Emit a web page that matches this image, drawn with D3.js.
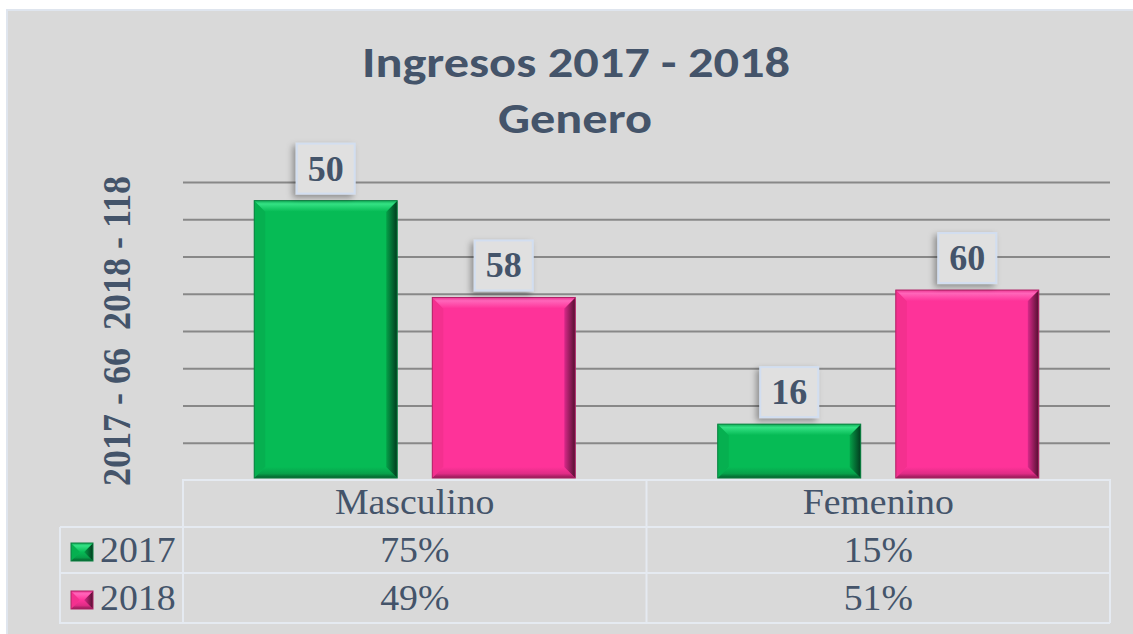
<!DOCTYPE html>
<html>
<head>
<meta charset="utf-8">
<script src="https://cdn.jsdelivr.net/npm/d3@7"></script>
<style>
  html, body { margin: 0; padding: 0; background: #ffffff; }
  svg { display: block; }
</style>
</head>
<body>
<svg id="chart" width="1133" height="634"></svg>
<script>
(function () {
  "use strict";

  // values: bar heights are the shares, labels are the counts
  const categories = ["Masculino", "Femenino"];
  const years = ["2017", "2018"];
  const share2017 = [0.75, 0.15];
  const share2018 = [0.49, 0.51];
  const count2017 = [50, 16];
  const count2018 = [58, 60];
  const titleLines = ["Ingresos 2017 - 2018", "Genero"];
  const axisTitle = "2017 - 66  2018 - 118";

  const W = 1133;
  const H = 634;
  const PLOT_LEFT = 183;
  const PLOT_RIGHT = 1110;
  const PLOT_TOP = 182;
  const PLOT_BOTTOM = 480;
  const ROW_H = 48;
  const LEGEND_LEFT = 60;
  const TEXT = "#44546a";
  const SERIF = "'Liberation Serif', 'Times New Roman', serif";

  const palettes = {
    "2017": { main: "#06bb55", top: "#34e284", topEdge: "#12ad58", left: "#06b050", rightA: "#05a048", rightB: "#023a1e", bottom: "#07a04a", bottomEdge: "#055c2c", edge: "#0a8040" },
    "2018": { main: "#fe3399", top: "#ff66ba", topEdge: "#ec3592", left: "#f4308f", rightA: "#d9298a", rightB: "#52102f", bottom: "#e02c86", bottomEdge: "#8e1a53", edge: "#b02266" }
  };

  const shares = { "2017": share2017, "2018": share2018 };
  const counts = { "2017": count2017, "2018": count2018 };

  const svg = d3.select("#chart");
  const defs = svg.append("defs");

  const shadow = defs.append("filter").attr("id", "labelShadow")
    .attr("x", "-30%").attr("y", "-30%").attr("width", "160%").attr("height", "160%");
  shadow.append("feDropShadow").attr("dx", -3).attr("dy", 3)
    .attr("stdDeviation", 3).attr("flood-color", "#000").attr("flood-opacity", 0.35);

  years.forEach((yr) => {
    const p = palettes[yr];
    const gr = defs.append("linearGradient").attr("id", "right" + yr)
      .attr("x1", 0).attr("x2", 1).attr("y1", 0).attr("y2", 0);
    gr.append("stop").attr("offset", 0).attr("stop-color", p.rightA);
    gr.append("stop").attr("offset", 1).attr("stop-color", p.rightB);
    const gt = defs.append("linearGradient").attr("id", "top" + yr)
      .attr("x1", 0).attr("x2", 0).attr("y1", 0).attr("y2", 1);
    gt.append("stop").attr("offset", 0).attr("stop-color", p.topEdge);
    gt.append("stop").attr("offset", 0.3).attr("stop-color", p.top);
    gt.append("stop").attr("offset", 1).attr("stop-color", p.main);
    const gb = defs.append("linearGradient").attr("id", "bottom" + yr)
      .attr("x1", 0).attr("x2", 0).attr("y1", 0).attr("y2", 1);
    gb.append("stop").attr("offset", 0).attr("stop-color", p.main);
    gb.append("stop").attr("offset", 0.6).attr("stop-color", p.bottom);
    gb.append("stop").attr("offset", 1).attr("stop-color", p.bottomEdge);
  });

  // background panel
  svg.append("rect").attr("x", 7).attr("y", 10).attr("width", W - 6).attr("height", H)
    .attr("fill", "#d9d9d9").attr("stroke", "#dfe5ee").attr("stroke-width", 2);

  // title
  const title = svg.append("text").attr("text-anchor", "middle")
    .attr("font-family", "Carlito, Calibri, Lato, sans-serif")
    .attr("font-weight", 700).attr("font-size", 42).attr("fill", TEXT);
  title.append("tspan").attr("x", 576).attr("y", 77)
    .attr("textLength", 428).attr("lengthAdjust", "spacingAndGlyphs").text(titleLines[0]);
  title.append("tspan").attr("x", 575).attr("y", 133)
    .attr("textLength", 154).attr("lengthAdjust", "spacingAndGlyphs").text(titleLines[1]);

  const y = d3.scaleLinear().domain([0, 0.8]).range([PLOT_BOTTOM, PLOT_TOP]);
  const x0 = d3.scaleBand().domain(categories).range([PLOT_LEFT, PLOT_RIGHT]);
  const x1 = d3.scaleBand().domain(years).range([0, x0.bandwidth()])
    .paddingInner(0.197).paddingOuter(0.4);

  // gridlines
  const grid = svg.append("g").attr("transform", `translate(${PLOT_LEFT},0)`)
    .call(d3.axisLeft(y)
      .tickValues(y.ticks(8).filter((d) => d > 0))
      .tickSize(-(PLOT_RIGHT - PLOT_LEFT))
      .tickFormat(""));
  grid.select(".domain").remove();
  grid.selectAll(".tick line").attr("stroke", "#888888").attr("stroke-width", 2);

  // axis title
  svg.append("text")
    .attr("transform", `translate(130,331) rotate(-90) scale(1,1.1)`)
    .attr("text-anchor", "middle")
    .attr("font-family", SERIF).attr("font-weight", 700).attr("font-size", 36)
    .attr("fill", TEXT).attr("xml:space", "preserve")
    .text(axisTitle);

  function bevelBox(g, x, yTop, w, h, yr, b) {
    const p = palettes[yr];
    const pts = (arr) => arr.map((d) => d.join(",")).join(" ");
    g.append("rect").attr("x", x).attr("y", yTop).attr("width", w).attr("height", h).attr("fill", p.main);
    g.append("polygon").attr("fill", p.left)
      .attr("points", pts([[x, yTop], [x + b, yTop + b], [x + b, yTop + h - b], [x, yTop + h]]));
    g.append("polygon").attr("fill", `url(#bottom${yr})`)
      .attr("points", pts([[x, yTop + h], [x + b, yTop + h - b], [x + w - b, yTop + h - b], [x + w, yTop + h]]));
    g.append("polygon").attr("fill", `url(#right${yr})`)
      .attr("points", pts([[x + w, yTop], [x + w, yTop + h], [x + w - b, yTop + h - b], [x + w - b, yTop + b]]));
    g.append("polygon").attr("fill", `url(#top${yr})`)
      .attr("points", pts([[x, yTop], [x + w, yTop], [x + w - b, yTop + b], [x + b, yTop + b]]));
    g.append("rect").attr("x", x).attr("y", yTop).attr("width", w).attr("height", h)
      .attr("fill", "none").attr("stroke", p.edge).attr("stroke-width", 1);
  }

  // bars
  const bars = svg.append("g");
  categories.forEach((cat, i) => {
    years.forEach((yr) => {
      const bx = x0(cat) + x1(yr);
      const by = y(shares[yr][i]);
      const bh = y(0) - by - 2;
      bevelBox(bars.append("g"), bx, by, x1.bandwidth(), bh, yr, 11);
    });
  });

  // data labels
  const labels = svg.append("g");
  categories.forEach((cat, i) => {
    years.forEach((yr) => {
      const cx = x0(cat) + x1(yr) + x1.bandwidth() / 2;
      const by = y(shares[yr][i]);
      const g = labels.append("g").attr("transform", `translate(${cx},${by - 7})`);
      g.append("rect").attr("x", -29).attr("y", -50).attr("width", 58).attr("height", 50)
        .attr("fill", "#e0e0e0").attr("stroke", "#d2def0").attr("stroke-width", 2)
        .attr("filter", "url(#labelShadow)");
      g.append("text").attr("text-anchor", "middle").attr("y", -13)
        .attr("font-family", SERIF).attr("font-weight", 700).attr("font-size", 36)
        .attr("fill", TEXT).text(counts[yr][i]);
    });
  });

  // data table
  const table = svg.append("g").attr("stroke", "#e5eaf1").attr("stroke-width", 2).attr("fill", "none");
  const t0 = PLOT_BOTTOM;
  table.append("path").attr("d",
    `M${PLOT_LEFT},${t0 + 3 * ROW_H - 1}V${t0}H${PLOT_RIGHT}V${t0 + 3 * ROW_H - 1}` +
    `M${LEGEND_LEFT},${t0 + ROW_H - 1}V${t0 + 3 * ROW_H - 1}H${PLOT_RIGHT}` +
    `M${LEGEND_LEFT},${t0 + ROW_H - 1}H${PLOT_RIGHT}` +
    `M${LEGEND_LEFT},${t0 + 2 * ROW_H - 3}H${PLOT_RIGHT}` +
    `M${x0(categories[1])},${t0}V${t0 + 3 * ROW_H - 1}`);

  const cellText = (x, yb, str, anchor) =>
    svg.append("text")
      .attr("transform", `translate(${x},${yb}) scale(1.08,1)`)
      .attr("text-anchor", anchor || "middle")
      .attr("font-family", SERIF).attr("font-size", 35).attr("fill", TEXT)
      .text(str);

  const pct = d3.format(".0%");
  categories.forEach((cat, i) => {
    const cx = x0(cat) + x0.bandwidth() / 2;
    cellText(cx, t0 + 34, cat);
    years.forEach((yr, j) => {
      cellText(cx, t0 + ROW_H + 34 + j * ROW_H, pct(shares[yr][i]));
    });
  });

  years.forEach((yr, j) => {
    const rowTop = t0 + ROW_H + j * ROW_H;
    bevelBox(svg.append("g"), 71, rowTop + 15, 22, 18, yr, 9);
    cellText(100, rowTop + 34, yr, "start");
  });
})();
</script>
</body>
</html>
